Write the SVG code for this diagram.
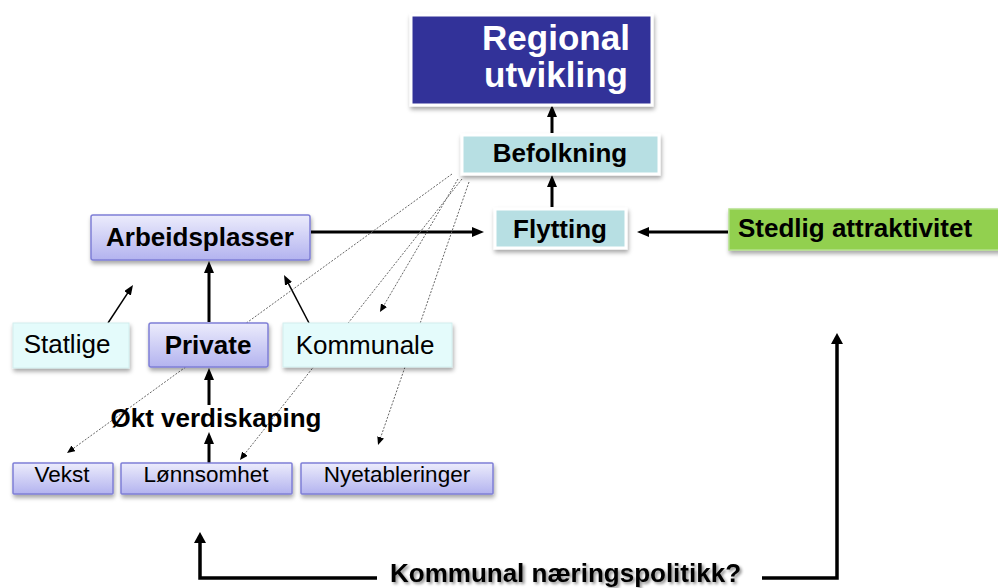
<svg xmlns="http://www.w3.org/2000/svg" width="998" height="588" viewBox="0 0 998 588">
  <defs>
    <style>
      text { font-family: "Liberation Sans", Arial, sans-serif; fill: #000; }
      .b { font-weight: bold; font-size: 26px; }
      .r { font-size: 26px; }
      .s { font-size: 22.5px; }
      .mid { text-anchor: middle; }
      .title { font-weight: bold; font-size: 35px; fill: #fff; text-anchor: middle; }
      .thick { stroke: #000; stroke-width: 3; fill: none; }
      .thin { stroke: #000; stroke-width: 1.5; fill: none; }
      .dot { stroke: #666; stroke-width: 1; stroke-dasharray: 2 1.5; fill: none; }
      .base { stroke: #000; stroke-width: 3.5; fill: none; }
      .teal { fill: #b7dfe3; stroke: #fff; stroke-width: 3; }
      .pale { fill: #e4fbfb; stroke: #d2eeee; stroke-width: 1; }
      .lav { fill: url(#lavGrad); stroke: #7f7fd6; stroke-width: 1.5; }
    </style>
    <linearGradient id="lavGrad" x1="0" y1="0" x2="0" y2="1">
      <stop offset="0" stop-color="#ececfc"/>
      <stop offset="1" stop-color="#b3b3ef"/>
    </linearGradient>
    <filter id="shadow" x="-10%" y="-20%" width="120%" height="150%">
      <feDropShadow dx="1" dy="3" stdDeviation="2" flood-color="#000" flood-opacity="0.35"/>
    </filter>
    <filter id="txtShadow" x="-5%" y="-30%" width="110%" height="160%">
      <feGaussianBlur in="SourceAlpha" stdDeviation="1.5" result="blur"/>
      <feOffset in="blur" dx="2" dy="2" result="off"/>
      <feComponentTransfer in="off" result="soft">
        <feFuncA type="linear" slope="0.45"/>
      </feComponentTransfer>
      <feMerge>
        <feMergeNode in="soft"/>
        <feMergeNode in="SourceGraphic"/>
      </feMerge>
    </filter>
    <marker id="ahThick" markerUnits="userSpaceOnUse" markerWidth="12" markerHeight="10" refX="2" refY="5" orient="auto">
      <path d="M0,0 L12,5 L0,10 z" fill="#000"/>
    </marker>
    <marker id="ahThin" markerUnits="userSpaceOnUse" markerWidth="10" markerHeight="8" refX="2" refY="4" orient="auto">
      <path d="M0,0 L10,4 L0,8 z" fill="#000"/>
    </marker>
    <marker id="ahDot" markerUnits="userSpaceOnUse" markerWidth="8" markerHeight="7" refX="1" refY="3.5" orient="auto">
      <path d="M0,0 L8,3.5 L0,7 z" fill="#000"/>
    </marker>
    <marker id="ahBase" markerUnits="userSpaceOnUse" markerWidth="11" markerHeight="12" refX="2" refY="6" orient="auto">
      <path d="M0,0 L11,6 L0,12 z" fill="#000"/>
    </marker>
  </defs>

  <rect width="998" height="588" fill="#fff"/>

  <!-- connectors -->
  <g id="connectors">
    <line class="thick" x1="552" y1="133" x2="552" y2="115" marker-end="url(#ahThick)"/>
    <line class="thick" x1="552" y1="207" x2="552" y2="185" marker-end="url(#ahThick)"/>
    <line class="thick" x1="311" y1="232" x2="474" y2="232" marker-end="url(#ahThick)"/>
    <line class="thick" x1="728" y1="232" x2="647" y2="232" marker-end="url(#ahThick)"/>
    <line class="thick" x1="209" y1="322" x2="209" y2="271" marker-end="url(#ahThick)"/>
    <line class="thick" x1="209" y1="405" x2="209" y2="378" marker-end="url(#ahThick)"/>
    <line class="thick" x1="209" y1="463" x2="209" y2="442" marker-end="url(#ahThick)"/>
    <line class="thin" x1="108" y1="323" x2="128.6" y2="291.7" marker-end="url(#ahThin)"/>
    <line class="thin" x1="309" y1="323" x2="287.7" y2="282.1" marker-end="url(#ahThin)"/>
    <line class="dot" x1="452" y1="174" x2="72.7" y2="448.9" marker-end="url(#ahDot)"/>
    <line class="dot" x1="458" y1="179" x2="383.5" y2="306" marker-end="url(#ahDot)"/>
    <line class="dot" x1="462" y1="179" x2="244.3" y2="454.5" marker-end="url(#ahDot)"/>
    <line class="dot" x1="469" y1="182" x2="380.3" y2="438.4" marker-end="url(#ahDot)"/>
    <path class="base" d="M377,578 L200,578 L200,541" marker-end="url(#ahBase)"/>
    <path class="base" d="M762,578 L837,578 L837,342" marker-end="url(#ahBase)"/>
  </g>

  <!-- top outcome -->
  <g id="regional">
    <rect x="411" y="15" width="241" height="90" fill="#333399" stroke="#fff" stroke-width="3" filter="url(#shadow)"/>
    <text class="title" x="556" y="50">Regional</text>
    <text class="title" x="556" y="87">utvikling</text>
  </g>

  <g id="befolkning">
    <rect class="teal" x="462" y="135" width="197" height="39" filter="url(#shadow)"/>
    <text class="b mid" x="560" y="162">Befolkning</text>
  </g>

  <g id="flytting">
    <rect class="teal" x="495" y="209" width="131" height="39" filter="url(#shadow)"/>
    <text class="b mid" x="560" y="238">Flytting</text>
  </g>

  <g id="stedlig">
    <rect x="729" y="209" width="275" height="41" fill="#92d050" stroke="#b4e08c" stroke-width="1.5" filter="url(#shadow)"/>
    <text class="b" x="738" y="237">Stedlig attraktivitet</text>
  </g>

  <g id="arbeidsplasser">
    <rect class="lav" x="91" y="215" width="219" height="45" rx="2" filter="url(#shadow)"/>
    <text class="b mid" x="200" y="246">Arbeidsplasser</text>
  </g>

  <g id="statlige">
    <rect class="pale" x="13" y="323" width="116" height="45" filter="url(#shadow)"/>
    <text class="r mid" x="67" y="353">Statlige</text>
  </g>

  <g id="private">
    <rect class="lav" x="149" y="323" width="119" height="44" rx="2" filter="url(#shadow)"/>
    <text class="b mid" x="208" y="354">Private</text>
  </g>

  <g id="kommunale">
    <rect class="pale" x="283" y="323" width="169" height="44" filter="url(#shadow)"/>
    <text class="r mid" x="365" y="354">Kommunale</text>
  </g>

  <g id="verdiskaping">
    <text class="b mid" x="216" y="427">Økt verdiskaping</text>
  </g>

  <g id="vekst">
    <rect class="lav" x="13" y="463" width="100" height="31" rx="1" filter="url(#shadow)"/>
    <text class="s mid" x="62" y="482">Vekst</text>
  </g>

  <g id="lonnsomhet">
    <rect class="lav" x="121" y="463" width="171" height="31" rx="1" filter="url(#shadow)"/>
    <text class="s mid" x="206" y="482">Lønnsomhet</text>
  </g>

  <g id="nyetableringer">
    <rect class="lav" x="301" y="463" width="192" height="31" rx="1" filter="url(#shadow)"/>
    <text class="s mid" x="397" y="482">Nyetableringer</text>
  </g>

  <g id="naeringspolitikk">
    <text class="b" x="390" y="582" filter="url(#txtShadow)">Kommunal næringspolitikk?</text>
  </g>
</svg>
